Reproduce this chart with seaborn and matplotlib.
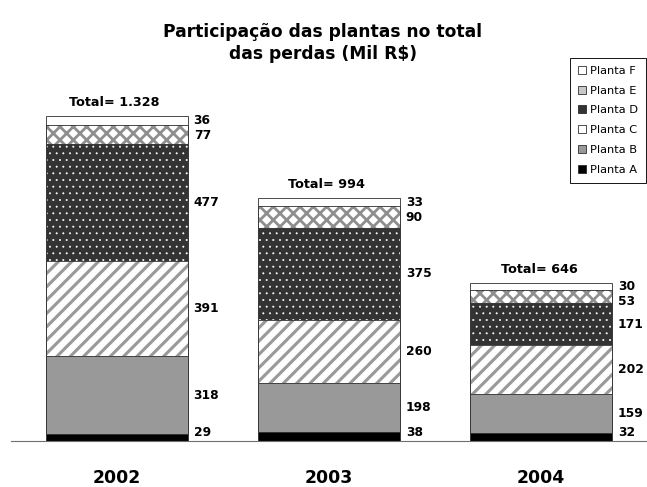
import matplotlib
matplotlib.use("Agg")
import matplotlib.pyplot as plt
from matplotlib.patches import Patch
import seaborn as sns

# --- data -------------------------------------------------------------
years = ["2002", "2003", "2004"]
plantas = ["Planta A", "Planta B", "Planta C", "Planta D", "Planta E", "Planta F"]
planta_a = [29, 38, 32]
planta_b = [318, 198, 159]
planta_c = [391, 260, 202]
planta_d = [477, 375, 171]
planta_e = [77, 90, 53]
planta_f = [36, 33, 30]
totals = [1328, 994, 646]
title = "Participação das plantas no total\ndas perdas (Mil R$)"

series = [planta_a, planta_b, planta_c, planta_d, planta_e, planta_f]

# --- styling ----------------------------------------------------------
sns.set_style("white")
plt.rcParams["font.family"] = ["DejaVu Sans"]
plt.rcParams["text.color"] = "black"

# face colour, hatch, hatch colour, hatch line width (pt)
styles = [
    ("#000000", None, "#000000", 1.0),
    ("#999999", None, "#999999", 1.0),
    ("#ffffff", "//", "#9a9a9a", 2.8),
    ("#333333", "..", "#ffffff", 0.55),
    ("#ffffff", "xx", "#8e8e8e", 2.5),
    ("#ffffff", None, "#ffffff", 1.0),
]
legend_faces = ["#000000", "#999999", "#ffffff", "#333333", "#c8c8c8", "#ffffff"]

DPI = 80
W, H = 647, 487
fig = plt.figure(figsize=(W / DPI, H / DPI), dpi=DPI)

base_px = 441          # baseline (pixels from top)
left_px = 10.5
cat_px = 215.0         # pixels per category
px_per_unit = 0.2445   # pixels per value unit
top_px = 40
ax = fig.add_axes([left_px / W, (H - base_px) / H, (W - left_px) / W,
                   (base_px - top_px) / H])

bar_w = 0.67

# stacked bars: draw cumulative heights from the top segment down
cums = []
running = [0, 0, 0]
for s in series:
    running = [r + v for r, v in zip(running, s)]
    cums.append(list(running))

for k in range(len(series) - 1, -1, -1):
    face, hatch, hcol, hlw = styles[k]
    n0 = len(ax.patches)
    with plt.rc_context({"hatch.linewidth": hlw}):
        sns.barplot(x=years, y=cums[k], ax=ax, color=face, saturation=1,
                    width=bar_w, edgecolor=hcol, linewidth=0, hatch=hatch,
                    errorbar=None)
    for p in ax.patches[n0:]:
        p.set_facecolor(face)
        if hasattr(p, "set_hatch_linewidth"):
            p.set_hatch_linewidth(hlw)

# segment outlines
for k in range(len(series)):
    sns.barplot(x=years, y=cums[k], ax=ax, color="#3a3a3a", fill=False,
                width=bar_w, linewidth=0.8, errorbar=None)

# value labels at the right of each segment
label_kw = dict(textcoords="offset pixels", ha="left", va="center",
                fontsize=11, fontweight="bold", color="black")
for i in range(len(years)):
    label_px = []  # label heights above the baseline, in pixels
    for k, s in enumerate(series):
        mid_px = (cums[k][i] - s[i] / 2) * px_per_unit
        if k == 0:
            mid_px = max(mid_px, 8)
        if k == len(series) - 2:
            # keep clear of the label above it
            top_label = (cums[k + 1][i] - series[k + 1][i] / 2) * px_per_unit
            mid_px = min(mid_px, top_label - 15)
        label_px.append(mid_px)
    for k, s in enumerate(series):
        ax.annotate(f"{s[i]}", xy=(i + bar_w / 2, 0),
                    xytext=(6, label_px[k]), **label_kw)

# totals above bars
for i, t in enumerate(totals):
    txt = "Total= " + f"{t:,}".replace(",", ".")
    ax.annotate(txt, xy=(i, cums[-1][i]), xytext=(-2, 7),
                textcoords="offset pixels", ha="center", va="bottom",
                fontsize=11.5, fontweight="bold", color="black")

# axes
ax.set_xlim(-0.5, -0.5 + (W - left_px) / cat_px)
ax.set_ylim(0, (base_px - top_px) / px_per_unit)
ax.set_yticks([])
ax.set_ylabel("")
ax.set_xlabel("")
for side in ("left", "top", "right"):
    ax.spines[side].set_visible(False)
ax.spines["bottom"].set_color("#6e6e6e")
ax.spines["bottom"].set_linewidth(1.0)
ax.set_xticks([0, 1, 2])
ax.set_xticklabels(years, fontsize=15.5, fontweight="bold", color="black")
ax.tick_params(axis="x", which="major", length=0, pad=25)
ax.set_xticks([-0.5, 0.5, 1.5, 2.5], minor=True)
ax.tick_params(axis="x", which="minor", length=5, width=1.0, color="#6e6e6e",
               direction="out")

# title
fig.text(323 / W, 1 - 43 / H, title, ha="center", va="center", fontsize=15.4,
         fontweight="bold", linespacing=1.22, color="black")

# legend
handles = [Patch(facecolor=legend_faces[k], edgecolor="#222222", linewidth=0.7,
                 label=plantas[k]) for k in range(len(plantas) - 1, -1, -1)]
leg = fig.legend(handles=handles, loc="upper right",
                 bbox_to_anchor=(646 / W, 1 - 58 / H),
                 bbox_transform=fig.transFigure, fontsize=10.2,
                 frameon=True, fancybox=False, framealpha=1,
                 edgecolor="#000000", handlelength=0.7, handleheight=0.7,
                 handletextpad=0.4, labelspacing=0.86, borderpad=0.7,
                 borderaxespad=0)
leg.get_frame().set_linewidth(0.8)
for t in leg.get_texts():
    t.set_color("black")

fig.savefig("out.png", dpi=DPI)
